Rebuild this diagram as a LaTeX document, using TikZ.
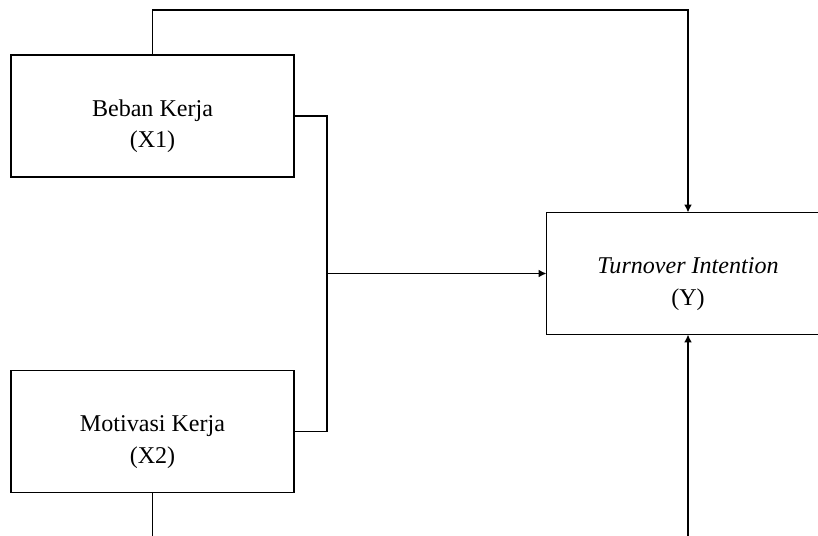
\documentclass[tikz,border=0pt]{standalone}
\usepackage{fontspec}
\setmainfont{Liberation Serif}
\usepackage{tikz}
\usetikzlibrary{arrows.meta,positioning,calc}
\newcommand{\upstrut}{\rule{0pt}{21pt}}
\tikzset{
  varbox/.style={draw, line width=1pt, align=center, inner sep=0pt, outer sep=0pt,
    minimum width=5.66cm, minimum height=2.44cm,
    font=\fontsize{13.7}{18}\selectfont},
  link/.style={line width=1pt},
  arrow/.style={link, -{Latex[length=4.5pt,width=4.5pt]}}
}

\begin{document}
\begin{tikzpicture}[x=0.02cm, y=-0.02cm]
    % Frame (picture is cut at the edges)
    \useasboundingbox (0,0) rectangle (818,535);
    \clip (0,0) rectangle (818,535);
    % Variables
    \node[varbox] (x1) at (152.5,116) {\upstrut Beban Kerja\\(X1)};
    \node[varbox] (x2) at (152.5,431.5) {\upstrut Motivasi Kerja\\(X2)};
    \node[varbox] (y) at (688,273.5) {\upstrut\textit{Turnover Intention}\\(Y)};
    % Helper points
    \coordinate (top) at (688,10);
    \coordinate (join) at (327,273.5);
    \coordinate (off1) at (152.5,570);
    \coordinate (off2) at (688,570);
    % Paths
    \draw[arrow] (x1.north) |- (top) -- (y.north);
    \draw[link] (x1.east) -| (join) |- (x2.east);
    \draw[arrow] (join) -- (y.west);
    \draw[link] (x2.south) -- (off1);
    \draw[arrow] (off2) -- (y.south);
  \end{tikzpicture}
\end{document}
